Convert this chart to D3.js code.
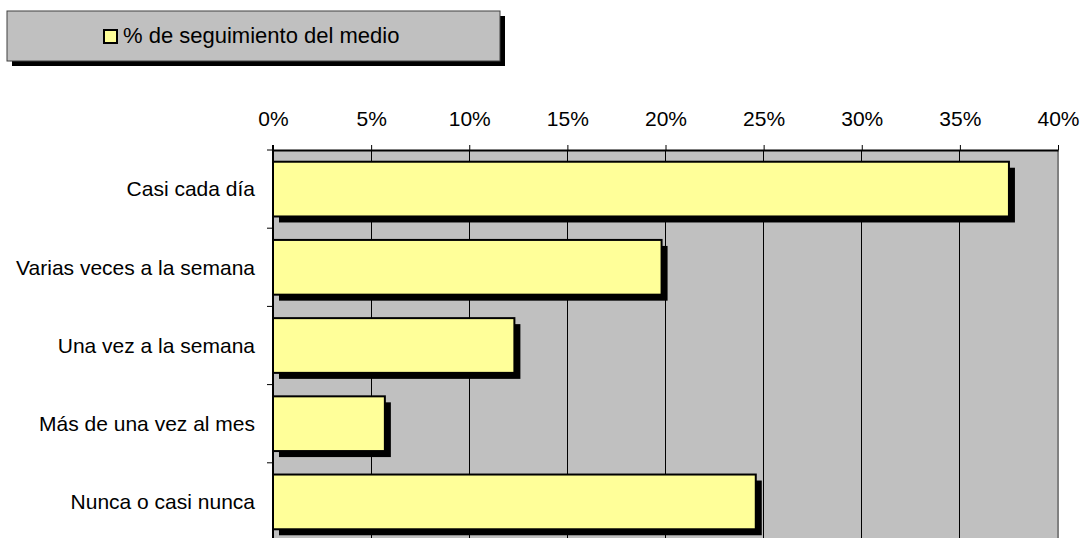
<!DOCTYPE html>
<html>
<head>
<meta charset="utf-8">
<script src="https://cdn.jsdelivr.net/npm/d3@7"></script>
<style>
body { margin: 0; background: #fff; }
text { font-family: "Liberation Sans", Arial, sans-serif; fill: #000; }
</style>
</head>
<body>
<svg id="chart" width="1084" height="538"></svg>
<script>
//chart data
var categories = ["Casi cada día", "Varias veces a la semana", "Una vez a la semana", "Más de una vez al mes", "Nunca o casi nunca"];
var values = [37.5, 19.8, 12.3, 5.7, 24.6];
var ticks = [0, 5, 10, 15, 20, 25, 30, 35, 40];
var seriesName = "% de seguimiento del medio";

var svg = d3.select("#chart");

var plotLeft = 273, plotRight = 1058, plotTop = 150, plotBottom = 541;

var x = d3.scaleLinear().domain([0, 40]).range([plotLeft, plotRight]);
var y = d3.scaleBand().domain(categories).range([plotTop, plotBottom]).paddingInner(0.3).paddingOuter(0.15);

//plot area
svg.append("rect")
	.attr("x", plotLeft).attr("y", plotTop)
	.attr("width", plotRight - plotLeft).attr("height", plotBottom - plotTop)
	.attr("fill", "#c0c0c0");

//grid lines
svg.append("g").selectAll("line")
	.data(ticks.slice(1, -1))
	.enter().append("line")
	.attr("x1", function(d) { return x(d); }).attr("x2", function(d) { return x(d); })
	.attr("y1", plotTop).attr("y2", plotBottom)
	.attr("stroke", "#000").attr("stroke-width", 1).attr("shape-rendering", "crispEdges");

svg.append("line")
	.attr("x1", plotRight).attr("x2", plotRight).attr("y1", plotTop).attr("y2", plotBottom)
	.attr("stroke", "#808080").attr("stroke-width", 2);

//top axis
var xAxis = d3.axisTop(x).tickValues(ticks).tickSize(5).tickSizeOuter(0).tickPadding(19)
	.tickFormat(function(d) { return d + "%"; });
var gx = svg.append("g").attr("transform", "translate(0," + plotTop + ")").call(xAxis);
gx.select(".domain").attr("stroke", "#000").attr("stroke-width", 2);
gx.selectAll(".tick line").attr("stroke", "#000");
gx.selectAll("text").attr("font-size", 21).style("font-family", "Liberation Sans, Arial, sans-serif");

//left axis
var bandEdges = categories.map(function(c) { return y(c) - y.step() * y.paddingInner() / 2; }).slice(1);
svg.append("line")
	.attr("x1", plotLeft).attr("x2", plotLeft).attr("y1", plotTop - 5).attr("y2", plotBottom)
	.attr("stroke", "#000").attr("stroke-width", 2);
svg.append("g").selectAll("line")
	.data([plotTop].concat(bandEdges))
	.enter().append("line")
	.attr("x1", plotLeft - 6).attr("x2", plotLeft)
	.attr("y1", function(d) { return d; }).attr("y2", function(d) { return d; })
	.attr("stroke", "#000");

svg.append("g").selectAll("text")
	.data(categories)
	.enter().append("text")
	.attr("x", plotLeft - 18)
	.attr("y", function(d) { return y(d) + y.bandwidth() / 2; })
	.attr("dy", "0.35em")
	.attr("text-anchor", "end")
	.attr("font-size", 21)
	.text(function(d) { return d; });

//bars with shadow
var bars = svg.append("g").selectAll("g")
	.data(values)
	.enter().append("g");

bars.append("rect")
	.attr("x", x(0) + 6)
	.attr("y", function(d, i) { return y(categories[i]) + 6; })
	.attr("width", function(d) { return x(d) - x(0); })
	.attr("height", y.bandwidth())
	.attr("fill", "#000");

bars.append("rect")
	.attr("x", x(0))
	.attr("y", function(d, i) { return y(categories[i]); })
	.attr("width", function(d) { return x(d) - x(0); })
	.attr("height", y.bandwidth())
	.attr("fill", "#ffff99")
	.attr("stroke", "#000")
	.attr("stroke-width", 2);

//legend
svg.append("rect").attr("x", 12).attr("y", 16).attr("width", 493).attr("height", 50).attr("fill", "#000");
svg.append("rect").attr("x", 7).attr("y", 11).attr("width", 493).attr("height", 50)
	.attr("fill", "#c0c0c0").attr("stroke", "#404040").attr("stroke-width", 1);
svg.append("rect").attr("x", 104).attr("y", 30).attr("width", 13).attr("height", 13)
	.attr("fill", "#ffff99").attr("stroke", "#000").attr("stroke-width", 2);
svg.append("text").attr("x", 123).attr("y", 43).attr("font-size", 22).text(seriesName);
</script>
</body>
</html>
